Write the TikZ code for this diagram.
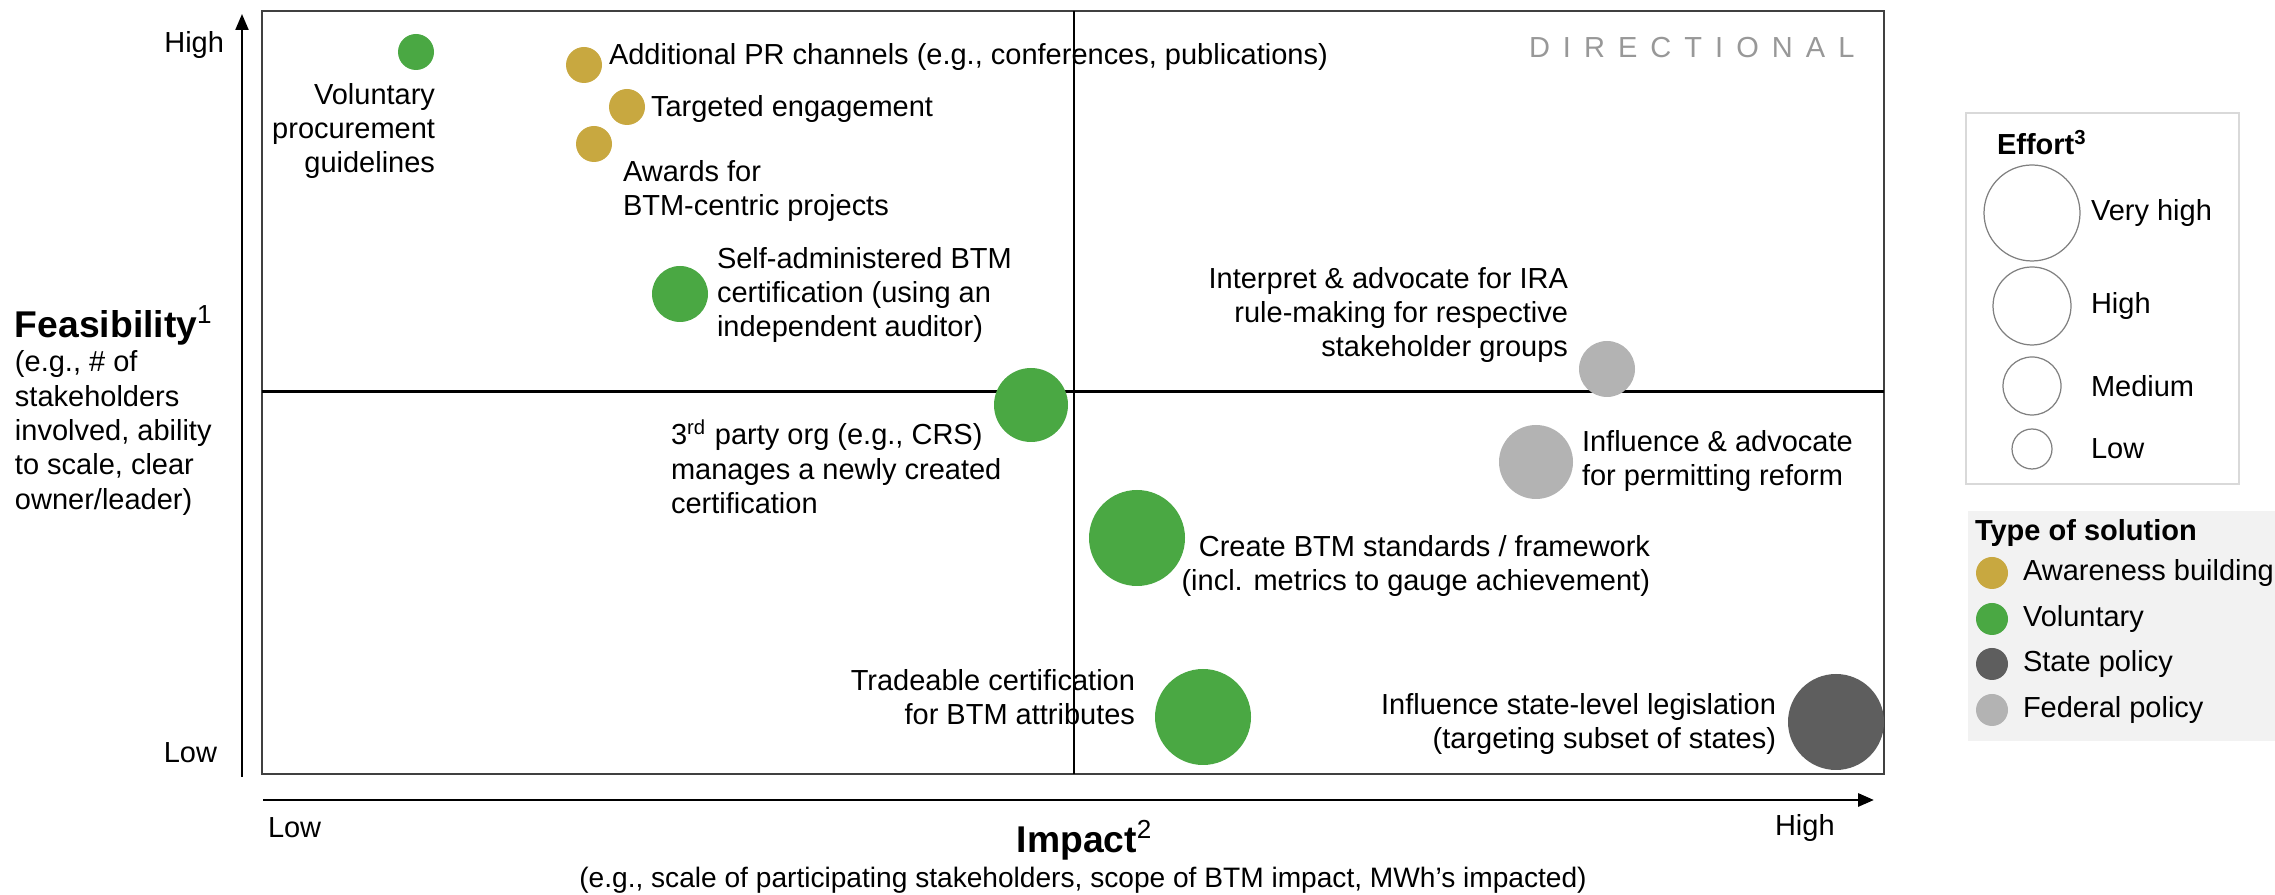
\documentclass[tikz,border=0pt]{standalone}
\usepackage{fontspec}
\setmainfont{Liberation Sans}
\usepackage{tikz}
\usetikzlibrary{arrows.meta}

\definecolor{awareness}{RGB}{200,168,64}
\definecolor{voluntary}{RGB}{74,168,67}
\definecolor{statepol}{RGB}{94,94,94}
\definecolor{fedpol}{RGB}{179,179,179}
\definecolor{framegrey}{RGB}{64,64,64}
\definecolor{legendfill}{RGB}{242,242,242}

\begin{document}
\begin{tikzpicture}[
        x=0.1mm, y=-0.1mm,
        every node/.style={inner sep=0pt, outer sep=0pt},
        lbl/.style={font=\fontsize{8.25}{9.8}\selectfont},
        axtitle/.style={font=\fontsize{10.6}{12}\selectfont\bfseries},
        bubble/.style={circle, inner sep=0pt, minimum size=#1},
        effortring/.style={circle, draw=gray, line width=0.35pt, minimum size=#1},
        axis/.style={line width=0.85pt, -{Triangle[length=1.6mm, width=1.3mm]}},
    ]
        \useasboundingbox (0,0) rectangle (2275,895);

        % --- Quadrant frame ---
        \draw[framegrey, line width=0.55pt] (262,11) rectangle (1884,774);
        \draw[line width=0.45pt] (1074,11) -- (1074,774);
        \draw[line width=0.85pt] (262,392) -- (1884,392);

        % --- Axes ---
        \coordinate (yfoot) at (242,777);
        \coordinate (ytip) at (242,14);
        \coordinate (xfoot) at (263,800);
        \coordinate (xtip) at (1874,800);
        \draw[axis, line width=0.6pt] (yfoot) -- (ytip);
        \draw[axis] (xfoot) -- (xtip);

        \node[lbl, anchor=east] (yhigh) at (224,45) {High};
        \node[lbl, anchor=east] (ylow) at (217,753) {Low};
        \node[lbl, anchor=west] (xlow) at (268,828) {Low};
        \node[lbl, anchor=west] (xhigh) at (1775,828) {High};

        \node[axtitle, anchor=west] (feas) at (15,325) {Feasibility\textsuperscript{\mdseries 1}};
        \node[lbl, anchor=west, align=left] (feasnote) at (15,433)
            {(e.g., \# of\\stakeholders\\involved, ability\\to scale, clear\\owner/leader)};
        \node[axtitle] (impact) at (1085,840) {Impact\textsuperscript{\mdseries 2}};
        \node[lbl, font=\fontsize{8}{9.5}\selectfont] (impactnote) at (1083,880)
            {(e.g., scale of participating stakeholders, scope of BTM impact, MWh’s impacted)};

        \node[lbl, anchor=west, text=fedpol!85!black] (directional) at (1529,48)
            {\addfontfeature{LetterSpace=45}DIRECTIONAL};

        % --- Solutions ---
        \node[bubble=3.6mm, fill=voluntary] (procure) at (416,52) {};
        \node[bubble=3.6mm, fill=awareness] (prchan) at (584,65) {};
        \node[bubble=3.6mm, fill=awareness] (target) at (627,107) {};
        \node[bubble=3.6mm, fill=awareness] (awards) at (594,144) {};
        \node[bubble=5.6mm, fill=voluntary] (selfcert) at (680,294) {};
        \node[bubble=7.4mm, fill=voluntary] (thirdparty) at (1031,405) {};
        \node[bubble=5.6mm, fill=fedpol] (ira) at (1607,369) {};
        \node[bubble=7.4mm, fill=fedpol] (permit) at (1536,462) {};
        \node[bubble=9.6mm, fill=voluntary] (standards) at (1137,538) {};
        \node[bubble=9.6mm, fill=voluntary] (tradeable) at (1203,717) {};
        \node[bubble=9.6mm, fill=statepol] (statelaw) at (1836,722) {};

        \node[lbl, anchor=east, align=right] (procuretxt) at (435,131)
            {Voluntary\\procurement\\guidelines};
        \node[lbl, anchor=west] (prchantxt) at (609,57)
            {Additional PR channels (e.g., conferences, publications)};
        \node[lbl, anchor=west] (targettxt) at (651,109) {Targeted engagement};
        \node[lbl, anchor=west, align=left] (awardstxt) at (623,191)
            {Awards for\\BTM-centric projects};
        \node[lbl, anchor=west, align=left] (selfcerttxt) at (717,295)
            {Self-administered BTM\\certification (using an\\independent auditor)};
        \node[lbl, anchor=west, align=left] (thirdpartytxt) at (671,467)
            {3\textsuperscript{rd} party org (e.g., CRS)\\manages a newly created\\certification};
        \node[lbl, anchor=east, align=right] (iratxt) at (1568,315)
            {Interpret \& advocate for IRA\\rule-making for respective\\stakeholder groups};
        \node[lbl, anchor=west, align=left] (permittxt) at (1582,461)
            {Influence \& advocate\\for permitting reform};
        \node[lbl, anchor=east, align=right] (standardstxt) at (1650,566)
            {Create BTM standards / framework\\(incl. metrics to gauge achievement)};
        \node[lbl, anchor=east, align=right] (tradeabletxt) at (1135,697)
            {Tradeable certification\\for BTM attributes};
        \node[lbl, anchor=east, align=right] (statelawtxt) at (1776,724)
            {Influence state-level legislation\\(targeting subset of states)};

        % --- Legend: effort ---
        \draw[black!15, line width=0.6pt] (1966,113) rectangle (2239,484);
        \node[lbl, anchor=west, font=\fontsize{8.25}{9.8}\selectfont\bfseries] (efforthead) at (1997,143)
            {Effort\textsuperscript{3}};
        \foreach \tag/\d/\y/\txt in {vhigh/9.6mm/213/Very high, high/7.8mm/306/High,
                                     med/5.8mm/386/Medium, low/4mm/449/Low} {
            \node[effortring=\d] (ring\tag) at (2032,\y) {};
            \node[lbl, anchor=west] (ringtxt\tag) at (2091,\y) {\txt};
        }

        % --- Legend: type of solution ---
        \fill[legendfill] (1968,511) rectangle (2275,741);
        \node[lbl, anchor=west, font=\fontsize{8.25}{9.8}\selectfont\bfseries] (typehead) at (1975,533)
            {Type of solution};
        \foreach \tag/\col/\y/\txt in {aw/awareness/573/Awareness building, vo/voluntary/619/Voluntary,
                                       st/statepol/664/State policy, fe/fedpol/710/Federal policy} {
            \node[bubble=3.2mm, fill=\col] (dot\tag) at (1992,\y) {};
            \node[lbl, anchor=west] (dottxt\tag) at (2023,\y) {\txt};
        }
    \end{tikzpicture}
\end{document}
